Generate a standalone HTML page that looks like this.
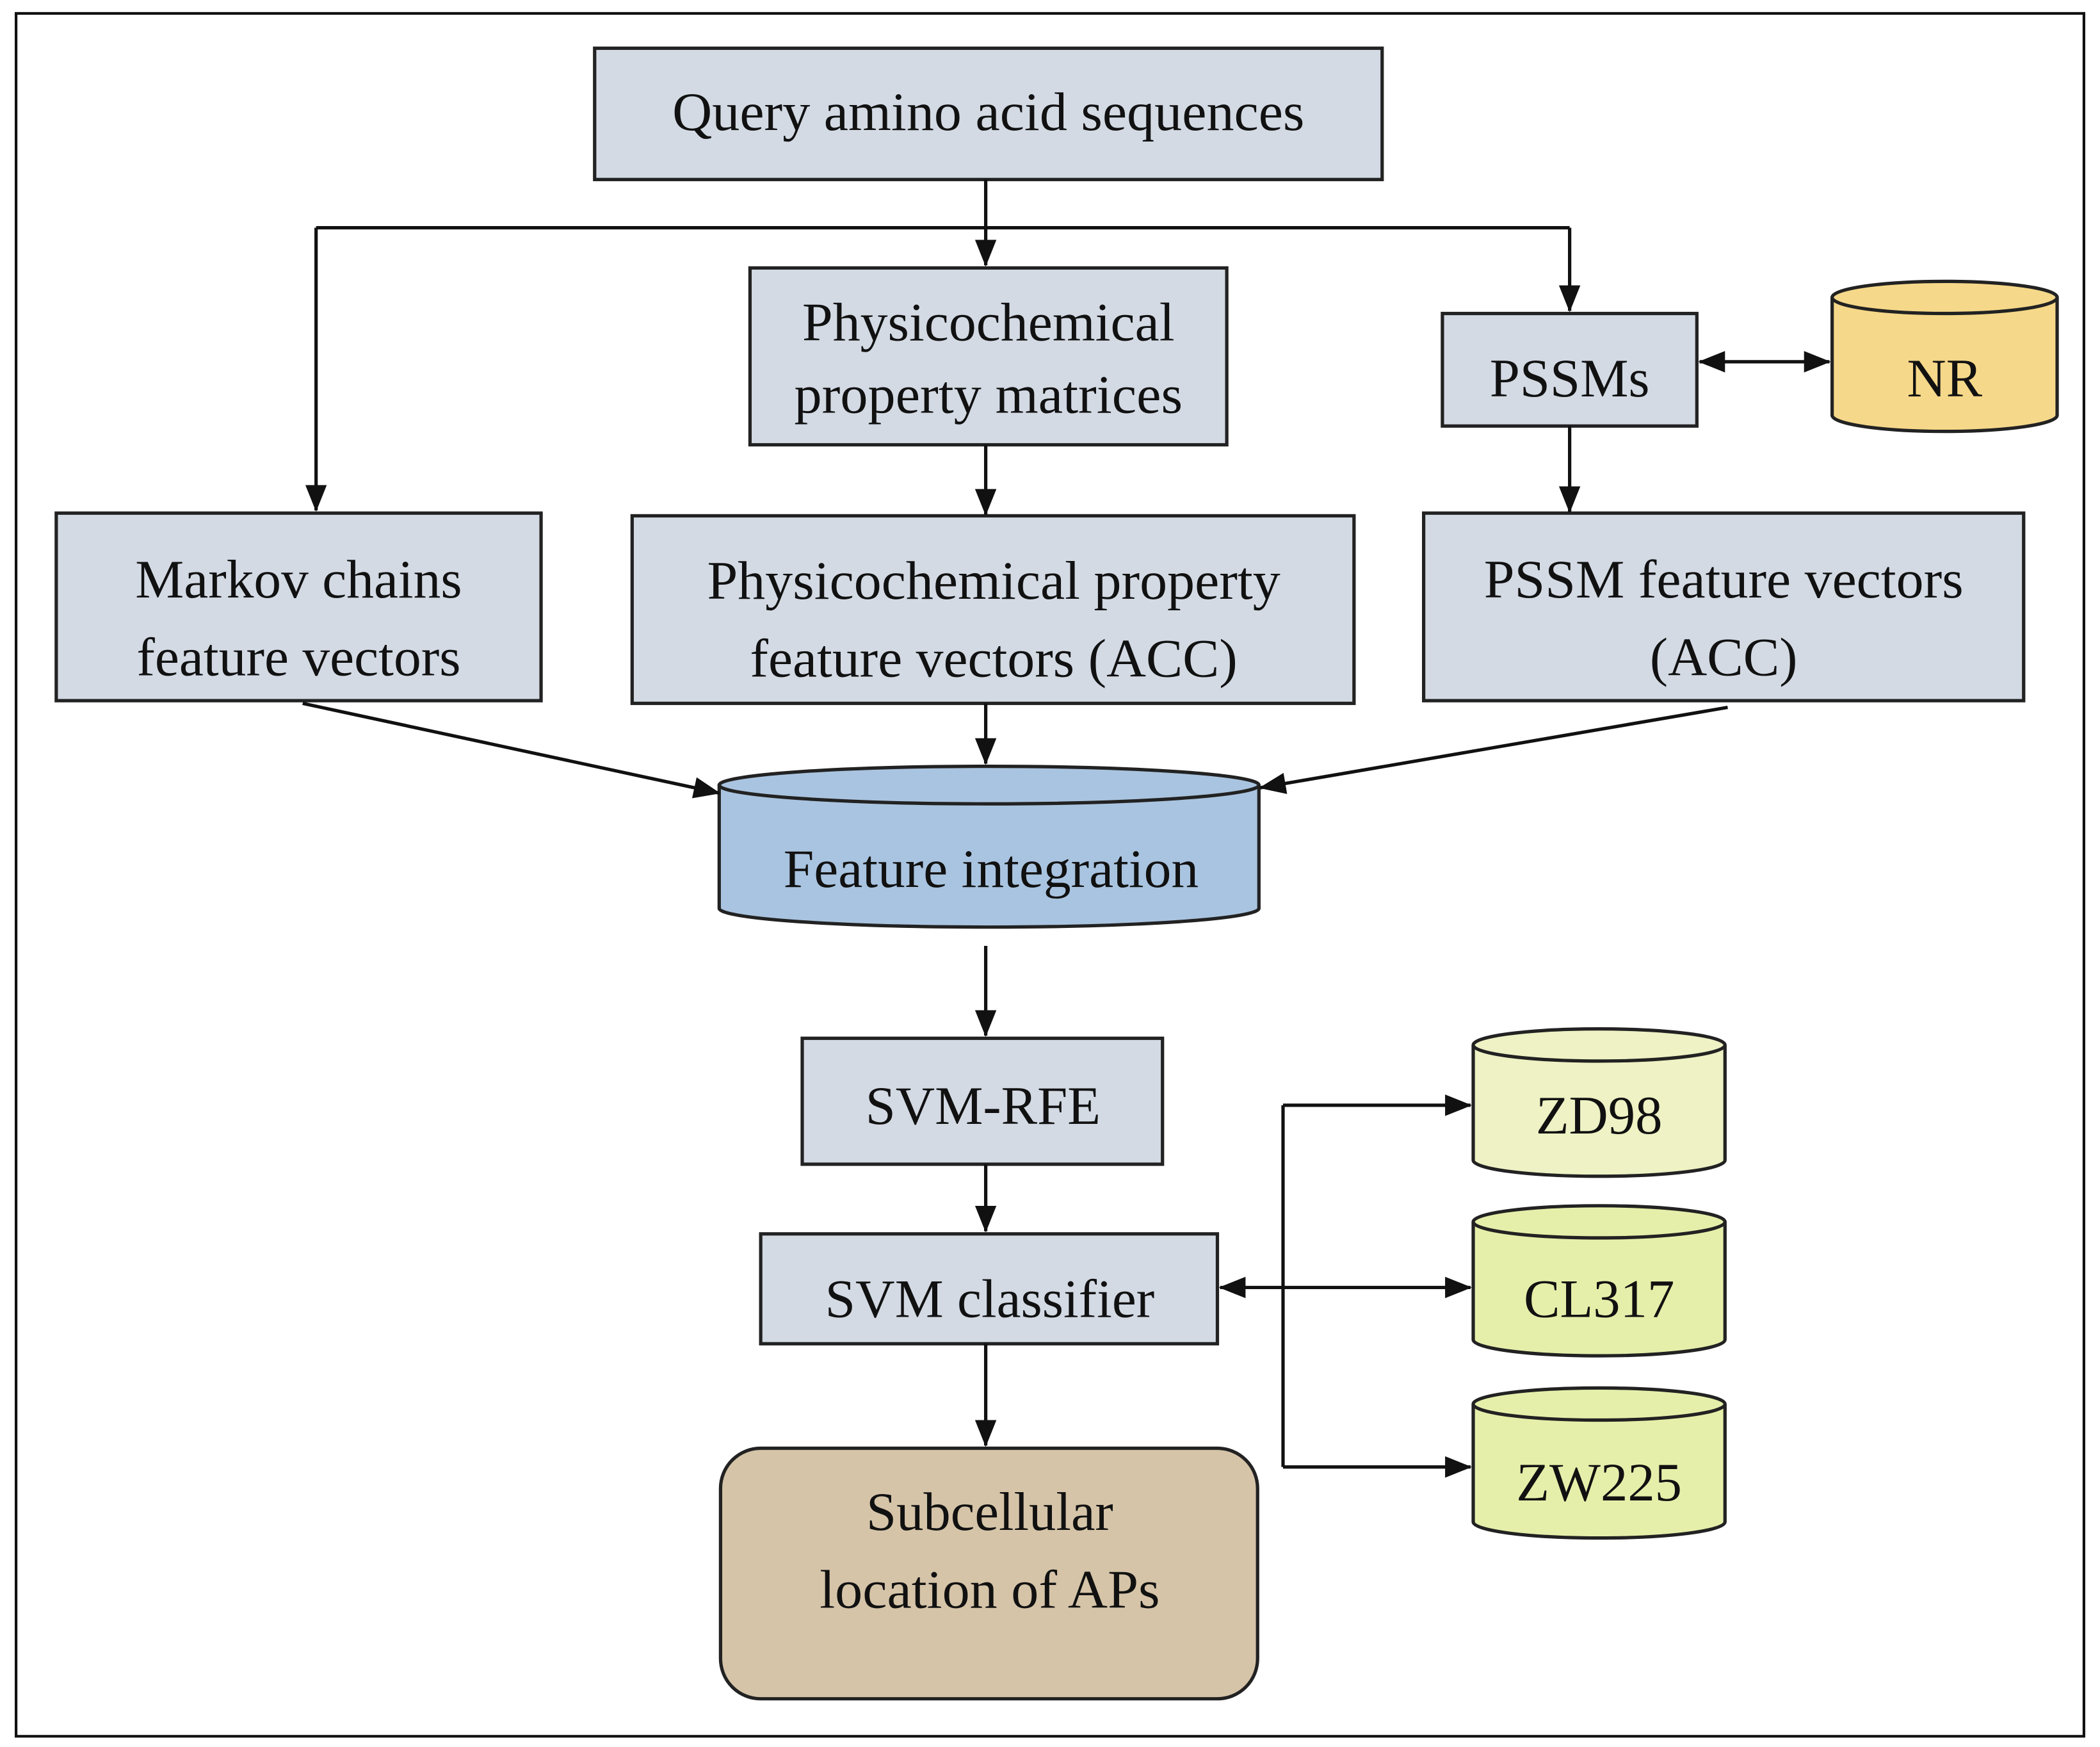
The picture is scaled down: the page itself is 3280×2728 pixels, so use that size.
<!DOCTYPE html>
<html><head><meta charset="utf-8"><style>html,body{margin:0;padding:0;background:#fff}svg{display:block}</style></head>
<body>
<svg width="3280" height="2728" viewBox="0 0 1568 1304" preserveAspectRatio="none" xmlns="http://www.w3.org/2000/svg" font-family="Liberation Serif, serif" font-size="40.5" fill="#111">
<defs>
<marker id="b" markerWidth="20" markerHeight="20" refX="19" refY="8" orient="auto-start-reverse" markerUnits="userSpaceOnUse" viewBox="0 0 20 16"><path d="M0,0 L20,8 L0,16 z" fill="#111"/></marker>
</defs>
<rect x="12" y="10" width="1544" height="1286" fill="#fff" stroke="#111" stroke-width="2"/>
<g stroke="#222" stroke-width="2.5" fill="#d3dae4">
<rect x="444" y="36" width="588" height="98"/>
<rect x="560" y="200" width="356" height="132"/>
<rect x="1077" y="234" width="190" height="84"/>
<rect x="42" y="383" width="362" height="140"/>
<rect x="472" y="385" width="539" height="140"/>
<rect x="1063" y="383" width="448" height="140"/>
<rect x="599" y="775" width="269" height="94"/>
<rect x="568" y="921" width="341" height="82"/>
<rect x="538" y="1081" width="401" height="187" rx="30" fill="#d5c4a8"/>
</g>
<g stroke="#222" stroke-width="2.5">
<path d="M1368,222 v88 a84,12 0 0 0 168,0 v-88" fill="#f5d889"/><ellipse cx="1452" cy="222" rx="84" ry="12" fill="#f5d889"/>
<path d="M537,586 v92 a201.5,14 0 0 0 403,0 v-92" fill="#a9c4e0"/><ellipse cx="738.5" cy="586" rx="201.5" ry="14" fill="#a9c4e0"/>
<path d="M1100,780 v86 a94,12 0 0 0 188,0 v-86" fill="#eef2c4"/><ellipse cx="1194" cy="780" rx="94" ry="12" fill="#eef2c4"/>
<path d="M1100,912 v88 a94,12 0 0 0 188,0 v-88" fill="#e6efaa"/><ellipse cx="1194" cy="912" rx="94" ry="12" fill="#e6efaa"/>
<path d="M1100,1048 v88 a94,12 0 0 0 188,0 v-88" fill="#e6efaa"/><ellipse cx="1194" cy="1048" rx="94" ry="12" fill="#e6efaa"/>
</g>
<g stroke="#111" stroke-width="2.5" fill="none">
<path d="M736,134 V198" marker-end="url(#b)"/>
<path d="M236,170 H1172"/>
<path d="M236,170 V381" marker-end="url(#b)"/>
<path d="M1172,170 V232" marker-end="url(#b)"/>
<path d="M1269,270 H1366" marker-start="url(#b)" marker-end="url(#b)"/>
<path d="M736,332 V384" marker-end="url(#b)"/>
<path d="M1172,318 V382" marker-end="url(#b)"/>
<path d="M226,525 L537,592" marker-end="url(#b)"/>
<path d="M736,525 V570" marker-end="url(#b)"/>
<path d="M1290,528 L941,588" marker-end="url(#b)"/>
<path d="M736,706 V773" marker-end="url(#b)"/>
<path d="M736,869 V919" marker-end="url(#b)"/>
<path d="M736,1003 V1079" marker-end="url(#b)"/>
<path d="M958,825 V1095"/>
<path d="M958,825 H1098" marker-end="url(#b)"/>
<path d="M911,961 H1098" marker-start="url(#b)" marker-end="url(#b)"/>
<path d="M958,1095 H1098" marker-end="url(#b)"/>
</g>
<g text-anchor="middle">
<text x="738" y="97" textLength="472" lengthAdjust="spacingAndGlyphs">Query amino acid sequences</text>
<text x="738" y="254" textLength="278" lengthAdjust="spacingAndGlyphs">Physicochemical</text>
<text x="738" y="308" textLength="290" lengthAdjust="spacingAndGlyphs">property matrices</text>
<text x="1172" y="296">PSSMs</text>
<text x="1452" y="296">NR</text>
<text x="223" y="446" textLength="244" lengthAdjust="spacingAndGlyphs">Markov chains</text>
<text x="223" y="504" textLength="242" lengthAdjust="spacingAndGlyphs">feature vectors</text>
<text x="742" y="447" textLength="428" lengthAdjust="spacingAndGlyphs">Physicochemical property</text>
<text x="742" y="505" textLength="364" lengthAdjust="spacingAndGlyphs">feature vectors (ACC)</text>
<text x="1287" y="446" textLength="358" lengthAdjust="spacingAndGlyphs">PSSM feature vectors</text>
<text x="1287" y="504">(ACC)</text>
<text x="740" y="662" textLength="310" lengthAdjust="spacingAndGlyphs">Feature integration</text>
<text x="734" y="839">SVM-RFE</text>
<text x="739" y="983" textLength="246" lengthAdjust="spacingAndGlyphs">SVM classifier</text>
<text x="739" y="1142">Subcellular</text>
<text x="739" y="1200" textLength="254" lengthAdjust="spacingAndGlyphs">location of APs</text>
<text x="1194" y="846">ZD98</text>
<text x="1194" y="983">CL317</text>
<text x="1194" y="1120">ZW225</text>
</g>
</svg>
</body></html>
